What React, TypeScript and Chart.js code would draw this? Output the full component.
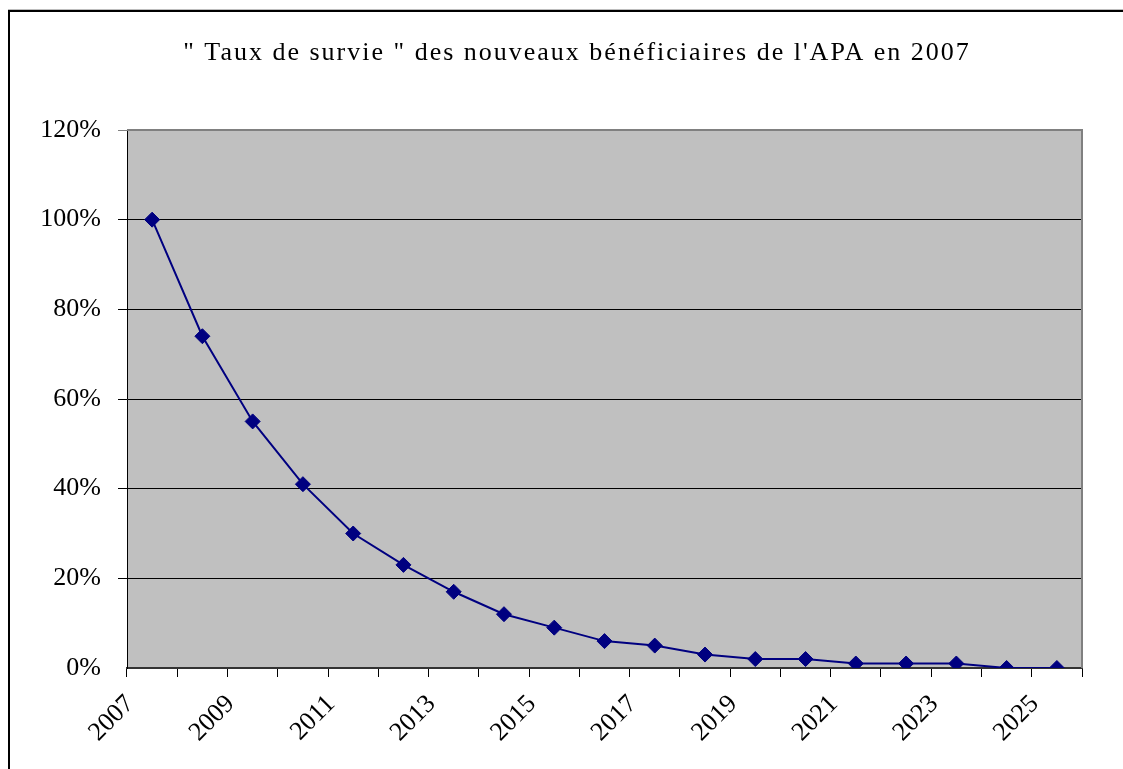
import React, { useEffect, useRef } from "react";
import { Chart, registerables } from "chart.js";

Chart.register(...registerables);

const years = [
  "2007", "2008", "2009", "2010", "2011", "2012", "2013", "2014", "2015", "2016",
  "2017", "2018", "2019", "2020", "2021", "2022", "2023", "2024", "2025",
];
const survivalRate = [100, 74, 55, 41, 30, 23, 17, 12, 9, 6, 5, 3, 2, 2, 1, 1, 1, 0, 0];
const yTicks = [0, 20, 40, 60, 80, 100, 120];
const titleText = "\" Taux de survie \" des nouveaux bénéficiaires de l'APA en 2007";

const FONT = "'Liberation Serif', 'Times New Roman', serif";

const plotBackground = {
  id: "plotBackground",
  beforeDraw(chart: any) {
    const { ctx, chartArea } = chart;
    ctx.save();
    ctx.fillStyle = "#C0C0C0";
    ctx.fillRect(chartArea.left, chartArea.top, chartArea.right - chartArea.left, chartArea.bottom - chartArea.top);
    ctx.restore();
  },
  beforeDatasetsDraw(chart: any) {
    const { ctx, chartArea } = chart;
    ctx.save();
    ctx.strokeStyle = "#808080";
    ctx.lineWidth = 2;
    ctx.beginPath();
    ctx.moveTo(chartArea.left, chartArea.top);
    ctx.lineTo(chartArea.right, chartArea.top);
    ctx.lineTo(chartArea.right, chartArea.bottom);
    ctx.stroke();
    ctx.restore();
  },
};

const spacedTitle = {
  id: "spacedTitle",
  afterDraw(chart: any) {
    const { ctx } = chart;
    ctx.save();
    ctx.font = `normal 26px ${FONT}`;
    (ctx as any).letterSpacing = "2px";
    ctx.fillStyle = "#000";
    ctx.textAlign = "center";
    ctx.textBaseline = "alphabetic";
    ctx.fillText(titleText, 577, 60);
    ctx.restore();
  },
};

export default function App() {
  const ref = useRef<HTMLCanvasElement | null>(null);
  useEffect(() => {
    if (!ref.current) return;
    const chart = new Chart(ref.current, {
      type: "line",
      data: {
        labels: years,
        datasets: [
          {
            data: survivalRate,
            borderColor: "#000080",
            backgroundColor: "#000080",
            borderWidth: 2,
            pointStyle: "rectRot",
            pointRadius: 7.5,
            pointBorderWidth: 1,
            pointBackgroundColor: "#000080",
            pointBorderColor: "#000080",
            tension: 0,
          },
        ],
      },
      options: {
        responsive: false,
        animation: false,
        layout: { padding: { left: 0, right: 41, top: 130, bottom: 0 } },
        plugins: {
          legend: { display: false },
          tooltip: { enabled: false },
          title: { display: false },
        },
        scales: {
          x: {
            type: "category",
            offset: true,
            grid: {
              display: true,
              offset: true,
              drawOnChartArea: false,
              drawTicks: true,
              tickLength: 9,
              color: "#000",
            },
            border: { display: true, color: "#333", width: 2 },
            ticks: {
              autoSkip: false,
              maxRotation: 45,
              minRotation: 45,
              labelOffset: -22,
              padding: 12,
              color: "#000",
              font: { family: FONT, size: 26 },
              callback: (_v: any, i: number) => (i % 2 === 0 ? years[i] : ""),
            },
            afterFit: (s: any) => {
              s.height = 101;
              s.paddingLeft = 0;
              s.paddingRight = 0;
            },
          },
          y: {
            min: 0,
            max: 120,
            afterBuildTicks: (s: any) => {
              s.ticks = yTicks.map((v) => ({ value: v }));
            },
            grid: {
              tickLength: 9,
              color: (c: any) => (c.tick && c.tick.value === 0 ? "rgba(0,0,0,0)" : c.tick && c.tick.value === 120 ? "#808080" : "#000"),
              lineWidth: 1,
            },
            border: { display: true, color: "#000", width: 1 },
            ticks: {
              padding: 17,
              color: "#000",
              font: { family: FONT, size: 26 },
              callback: (v: any) => v + "%",
            },
            afterFit: (s: any) => {
              s.width = 127;
            },
          },
        },
      },
      plugins: [plotBackground, spacedTitle],
    });
    return () => chart.destroy();
  }, []);

  return (
    <div style={{ position: "fixed", left: 0, top: 0, width: 1123, height: 769, overflow: "hidden", background: "#fff" }}>
      <canvas ref={ref} width={1123} height={769} style={{ display: "block" }} />
      <div
        style={{
          position: "absolute",
          left: 8,
          top: 9,
          right: 0,
          height: 1,
          background: "#bdbdbd",
          pointerEvents: "none",
        }}
      />
      <div
        style={{
          position: "absolute",
          left: 8,
          top: 10,
          right: 0,
          bottom: 0,
          borderLeft: "2px solid #000",
          borderTop: "2px solid #000",
          pointerEvents: "none",
        }}
      />
    </div>
  );
}
